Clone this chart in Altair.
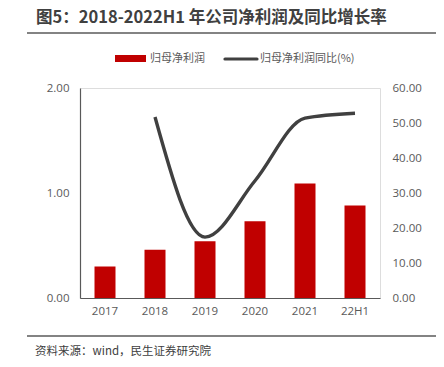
import altair as alt
import pandas as pd

years = ["2017", "2018", "2019", "2020", "2021", "22H1"]
profit = [0.30, 0.46, 0.54, 0.73, 1.09, 0.88]
growth = [None, 51.7, 17.4, 33.5, 51.4, 52.8]

title_text = "图5：2018-2022H1 年公司净利润及同比增长率"
source_text = "资料来源：wind，民生证券研究院"
legend_names = ["归母净利润", "归母净利润同比(%)"]

df = pd.DataFrame({"year": years, "profit": profit, "growth": growth})

RED = "#C00000"
DARK = "#404040"
GRAY = "#595959"
CJK = "Noto Sans CJK SC"
NUM = "Open Sans"

xenc = alt.X("year:N", sort=years, title=None,
             scale=alt.Scale(paddingInner=0.58, paddingOuter=0.29),
             axis=alt.Axis(labelAngle=0, ticks=False, domainColor=GRAY, domainWidth=1.2,
                           labelColor=GRAY, labelFont=NUM, labelFontSize=11.5, labelPadding=7))

bars = alt.Chart(df).mark_bar(color=RED).encode(
    x=xenc,
    y=alt.Y("profit:Q", title=None,
            scale=alt.Scale(domain=[0, 2], nice=False),
            axis=alt.Axis(orient="left", values=[0, 1, 2], format=".2f", grid=False, ticks=False,
                          domainColor=GRAY, domainWidth=1.2, labelColor=GRAY, labelFont=NUM,
                          labelFontSize=11.5, labelPadding=11)),
)

line = alt.Chart(df).transform_filter("datum.growth != null").mark_line(
    color=DARK, strokeWidth=3.4, interpolate="monotone"
).encode(
    x=alt.X("year:N", sort=years),
    y=alt.Y("growth:Q", title=None,
            scale=alt.Scale(domain=[0, 60], nice=False),
            axis=alt.Axis(orient="right", values=[0, 10, 20, 30, 40, 50, 60], format=".2f",
                          grid=False, ticks=False, domain=False, labelColor=GRAY, labelFont=NUM,
                          labelFontSize=11.5, labelPadding=12)),
)

one = pd.DataFrame({"k": [0]})

title = alt.Chart(one).mark_text(
    text=title_text, align="left", baseline="alphabetic", font=CJK, fontSize=16.5,
    fontWeight="bold", color=DARK
).encode(x=alt.value(-44), y=alt.value(-65))

source = alt.Chart(one).mark_text(
    text=source_text, align="left", baseline="middle", font=CJK, fontSize=11.5, color=DARK
).encode(x=alt.value(-45), y=alt.value(264))

rule_top = alt.Chart(one).mark_rule(color="#5a5a5a", strokeWidth=1.3).encode(
    x=alt.value(-53), x2=alt.value(361), y=alt.value(-55))
rule_bot = alt.Chart(one).mark_rule(color="#5a5a5a", strokeWidth=1.3).encode(
    x=alt.value(-53), x2=alt.value(361), y=alt.value(248))

leg_rect = alt.Chart(one).mark_rect(color=RED).encode(
    x=alt.value(35), x2=alt.value(66), y=alt.value(-33), y2=alt.value(-26))
leg_t1 = alt.Chart(one).mark_text(
    text=legend_names[0], align="left", baseline="middle", font=CJK, fontSize=11, color=GRAY
).encode(x=alt.value(70), y=alt.value(-29.5))
leg_line = alt.Chart(one).mark_rule(color=DARK, strokeWidth=3.2, strokeCap="round").encode(
    x=alt.value(145), x2=alt.value(177), y=alt.value(-29))
leg_t2 = alt.Chart(one).mark_text(
    text=legend_names[1], align="left", baseline="middle", font=CJK, fontSize=11, color=GRAY
).encode(x=alt.value(180), y=alt.value(-29.5))

main = alt.layer(bars, line).resolve_scale(y="independent")

chart = alt.layer(
    main, title, source, rule_top, rule_bot, leg_rect, leg_t1, leg_line, leg_t2
).properties(
    width=300, height=210,
    autosize=alt.AutoSizeParams(type="none"),
    padding={"left": 72, "top": 80, "right": 56, "bottom": 61},
).configure_view(stroke=None).configure(background="white")

chart.save("out.html", embed_options={"renderer": "svg", "actions": False})
